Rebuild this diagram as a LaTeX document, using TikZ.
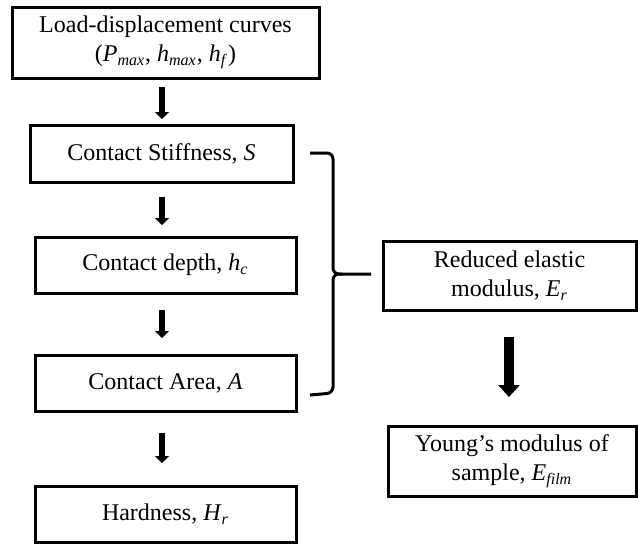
\documentclass[tikz,border=0pt]{standalone}
\usepackage{fontspec}
\setmainfont{Liberation Serif}
\usetikzlibrary{arrows.meta}
\newcommand{\isub}[2]{\textit{#1}\textsubscript{\textit{#2}}}

\begin{document}
\begin{tikzpicture}[x=0.5pt,y=-0.5pt,
    stepbox/.style={draw,line width=1.5pt,inner sep=0pt,outer sep=0pt,align=center,
      font=\fontsize{12}{14.5}\selectfont},
    flow/.style={line width=3pt,-{Triangle[width=7pt,length=3.5pt]}},
    bigflow/.style={line width=5pt,-{Triangle[width=10.5pt,length=6pt]}},
    brace/.style={line width=1.5pt,rounded corners=3pt}]
    \useasboundingbox (0,0) rectangle (638,543);
    % left column
    \node[stepbox,minimum width=153.5pt,minimum height=35.5pt] (load) at (165.5,42.5)
      {Load-displacement curves\\(\isub{P}{max}, \isub{h}{max}, \isub{h}{f})};
    \node[stepbox,minimum width=131.5pt,minimum height=28.5pt] (stiff) at (161.5,153.5)
      {Contact Stiffness, \textit{S}};
    \node[stepbox,minimum width=130.5pt,minimum height=28pt] (depth) at (165.5,265)
      {Contact depth, \isub{h}{c}};
    \node[stepbox,minimum width=130.5pt,minimum height=28pt] (area) at (165.5,383)
      {Contact Area, \textit{A}};
    \node[stepbox,minimum width=130.5pt,minimum height=28pt] (hard) at (165.5,514)
      {Hardness, \isub{H}{r}};
    % right column
    \node[stepbox,minimum width=126.5pt,minimum height=34.5pt] (reduced) at (509.5,275.5)
      {Reduced elastic\\modulus, \isub{E}{r}};
    \node[stepbox,minimum width=124pt,minimum height=35pt] (young) at (512,461)
      {Young's modulus of\\sample, \isub{E}{film}};
    % arrows
    \draw[flow,shorten <=4.5pt,shorten >=3pt] (162,0 |- load.south) -- (162,0 |- stiff.north);
    \draw[flow,shorten <=7.5pt,shorten >=6pt] (162,0 |- stiff.south) -- (162,0 |- depth.north);
    \draw[flow,shorten <=8.5pt,shorten >=8.5pt] (162,0 |- depth.south) -- (162,0 |- area.north);
    \draw[flow,shorten <=11pt,shorten >=11.5pt] (162,0 |- area.south) -- (162,0 |- hard.north);
    \draw[bigflow,shorten <=13.5pt,shorten >=14.5pt] (509,0 |- reduced.south) -- (509,0 |- young.north);
    % brace
    \coordinate (tip) at (371,274);
    \draw[brace] (310,153) -- (333,153) -- (333,274) -- (tip);
    \draw[brace] (310,395) -- (333,393) -- (333,274) -- (342,274);
\end{tikzpicture}
\end{document}
